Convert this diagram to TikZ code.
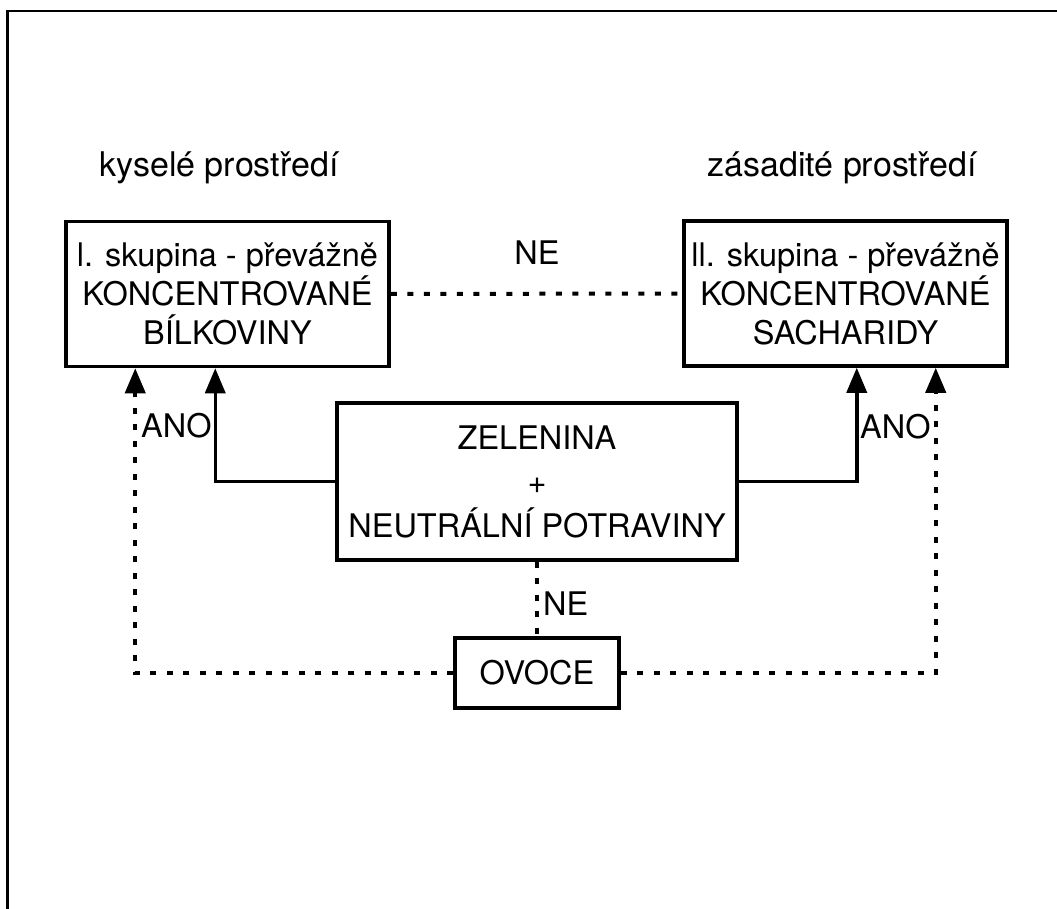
\documentclass[tikz,border=0pt]{standalone}
\usepackage{fontspec}
\setmainfont{TeX Gyre Heros}
\usetikzlibrary{arrows.meta}
\begin{document}
\begin{tikzpicture}[x=1pt,y=-1pt,
  box/.style={draw,line width=3.5pt,inner sep=0pt,align=center,font=\fontsize{32.5}{39}\selectfont},
  lbl/.style={inner sep=0pt,font=\fontsize{32.5}{39}\selectfont},
  solidcon/.style={line width=3.5pt,-{Triangle[width=20pt,length=25pt]}},
  dotcon/.style={line width=4pt,dash pattern=on 6pt off 10.5pt},
  dotarrow/.style={dotcon,-{Triangle[width=20pt,length=25pt]}}]
\useasboundingbox (0,0) rectangle (1057,909);
\draw[line width=2.5pt] (7.5,909) -- (7.5,11) -- (1057,11);
\node[box,minimum width=323pt,minimum height=145pt] (lb) at (227.5,294) {l. skupina - převážně\\KONCENTROVANÉ\\BÍLKOVINY};
\node[box,minimum width=323pt,minimum height=145pt] (rb) at (845.5,293.5) {ll. skupina - převážně\\KONCENTROVANÉ\\SACHARIDY};
\node[box,minimum width=400pt,minimum height=157pt,font=\fontsize{32.5}{44}\selectfont] (mid) at (537,481.5) {ZELENINA\\+\\NEUTRÁLNÍ POTRAVINY};
\node[box,minimum width=164pt,minimum height=70pt] (ov) at (537,673) {OVOCE};
\node[lbl,anchor=base,font=\fontsize{34}{39}\selectfont] (k) at (219,177) {kyselé prostředí};
\node[lbl,anchor=base,font=\fontsize{34}{39}\selectfont] (z) at (842,177) {zásadité prostředí};
\node[lbl,anchor=base] (ne1) at (537,265) {NE};
\node[lbl,anchor=base west] (ano1) at (141,437) {ANO};
\node[lbl,anchor=base west] (ano2) at (860,438) {ANO};
\node[lbl,anchor=base west] (ne2) at (543,615) {NE};
\draw[dotcon] (lb.east) -- (rb.west);
\draw[solidcon] (mid.west) -| ([xshift=151pt]lb.south west);
\draw[solidcon] (mid.east) -| ([xshift=-152pt]rb.south east);
\draw[dotarrow] (ov.west) -| ([xshift=71pt]lb.south west);
\draw[dotarrow] (ov.east) -| ([xshift=-73pt]rb.south east);
\draw[dotcon] (mid.south) -- (ov.north);
\end{tikzpicture}
\end{document}
